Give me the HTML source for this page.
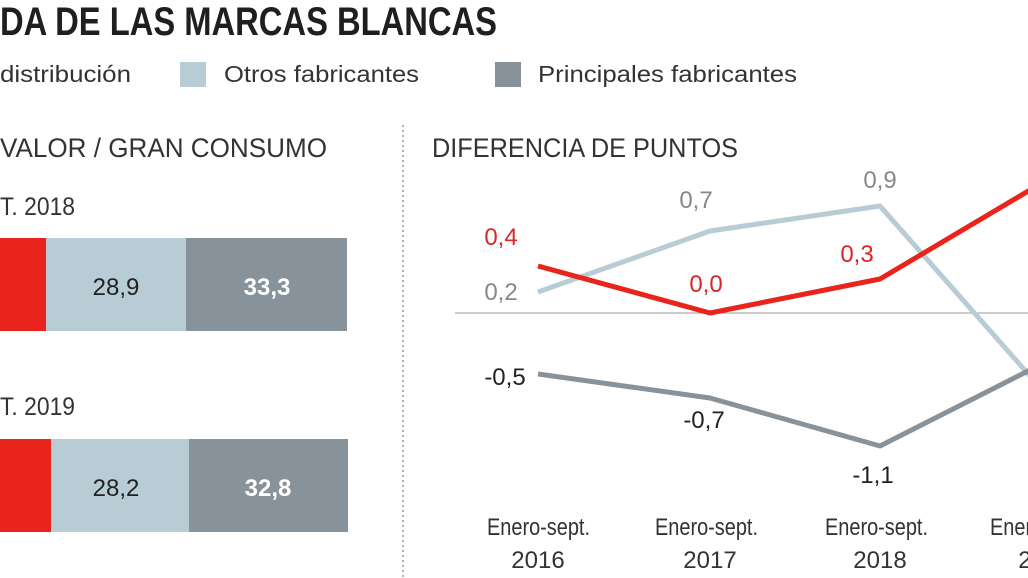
<!DOCTYPE html>
<html><head><meta charset="utf-8"><style>
html,body{margin:0;padding:0;background:#fff;width:1028px;height:578px;overflow:hidden}
svg text{font-family:"Liberation Sans Narrow","Liberation Sans",sans-serif}
</style></head><body>
<svg width="1028" height="578" viewBox="0 0 1028 578" xmlns="http://www.w3.org/2000/svg">
<text x="0" y="35" font-size="40" font-weight="bold" fill="#1f1f1f" textLength="497" lengthAdjust="spacingAndGlyphs">DA DE LAS MARCAS BLANCAS</text>
<text x="0" y="82" font-size="23" fill="#333" textLength="131" lengthAdjust="spacingAndGlyphs">distribución</text>
<rect x="180" y="62" width="26" height="25" fill="#b8ccd5"/>
<text x="224" y="82" font-size="23" fill="#333" textLength="195" lengthAdjust="spacingAndGlyphs">Otros fabricantes</text>
<rect x="495" y="62" width="26" height="25" fill="#87929a"/>
<text x="538" y="82" font-size="23" fill="#333" textLength="259" lengthAdjust="spacingAndGlyphs">Principales fabricantes</text>
<text x="0" y="157" font-size="27" fill="#333" textLength="327" lengthAdjust="spacingAndGlyphs">VALOR / GRAN CONSUMO</text>
<line x1="403" y1="125" x2="403" y2="578" stroke="#999" stroke-width="1.5" stroke-dasharray="2,3"/>
<text x="432" y="157" font-size="27" fill="#333" textLength="306" lengthAdjust="spacingAndGlyphs">DIFERENCIA DE PUNTOS</text>
<text x="0" y="215" font-size="25" fill="#333" textLength="75" lengthAdjust="spacingAndGlyphs">T. 2018</text>
<rect x="0" y="238" width="46" height="93" fill="#e8241c"/>
<rect x="46" y="238" width="140" height="93" fill="#b8ccd5"/>
<rect x="186" y="238" width="161" height="93" fill="#87929a"/>
<text x="116" y="295" font-size="24" fill="#222" text-anchor="middle">28,9</text>
<text x="267" y="295" font-size="24" font-weight="bold" fill="#fff" text-anchor="middle">33,3</text>
<text x="0" y="415" font-size="25" fill="#333" textLength="75" lengthAdjust="spacingAndGlyphs">T. 2019</text>
<rect x="0" y="439" width="51" height="93" fill="#e8241c"/>
<rect x="51" y="439" width="138" height="93" fill="#b8ccd5"/>
<rect x="189" y="439" width="159" height="93" fill="#87929a"/>
<text x="116" y="496" font-size="24" fill="#222" text-anchor="middle">28,2</text>
<text x="268" y="496" font-size="24" font-weight="bold" fill="#fff" text-anchor="middle">32,8</text>
<line x1="455" y1="313" x2="1028" y2="313" stroke="#999" stroke-width="1"/>
<polyline points="538,292 710,231 880,206 1030,376" fill="none" stroke="#b8ccd5" stroke-width="5" stroke-linejoin="round"/>
<polyline points="538,374 710,398 880,446 1030,370" fill="none" stroke="#87929a" stroke-width="5" stroke-linejoin="round"/>
<polyline points="538,266 710,313 880,279 1030,190" fill="none" stroke="#e8241c" stroke-width="5" stroke-linejoin="round"/>
<g font-size="24" text-anchor="middle">
<text x="501" y="245" fill="#d8262a">0,4</text>
<text x="501" y="300" fill="#888">0,2</text>
<text x="505" y="385" fill="#222">-0,5</text>
<text x="696" y="208" fill="#888">0,7</text>
<text x="706" y="292" fill="#d8262a">0,0</text>
<text x="704" y="428" fill="#222">-0,7</text>
<text x="880" y="188" fill="#888">0,9</text>
<text x="857" y="262" fill="#d8262a">0,3</text>
<text x="873" y="483" fill="#222">-1,1</text>
</g>
<g font-size="24" fill="#333">
<text x="487" y="535" textLength="103" lengthAdjust="spacingAndGlyphs">Enero-sept.</text><text x="538" y="568" text-anchor="middle">2016</text>
<text x="655" y="535" textLength="103" lengthAdjust="spacingAndGlyphs">Enero-sept.</text><text x="710" y="568" text-anchor="middle">2017</text>
<text x="825" y="535" textLength="103" lengthAdjust="spacingAndGlyphs">Enero-sept.</text><text x="880" y="568" text-anchor="middle">2018</text>
<text x="990" y="535" textLength="103" lengthAdjust="spacingAndGlyphs">Enero-sept.</text><text x="1045" y="568" text-anchor="middle">2019</text>
</g>
</svg>
</body></html>
